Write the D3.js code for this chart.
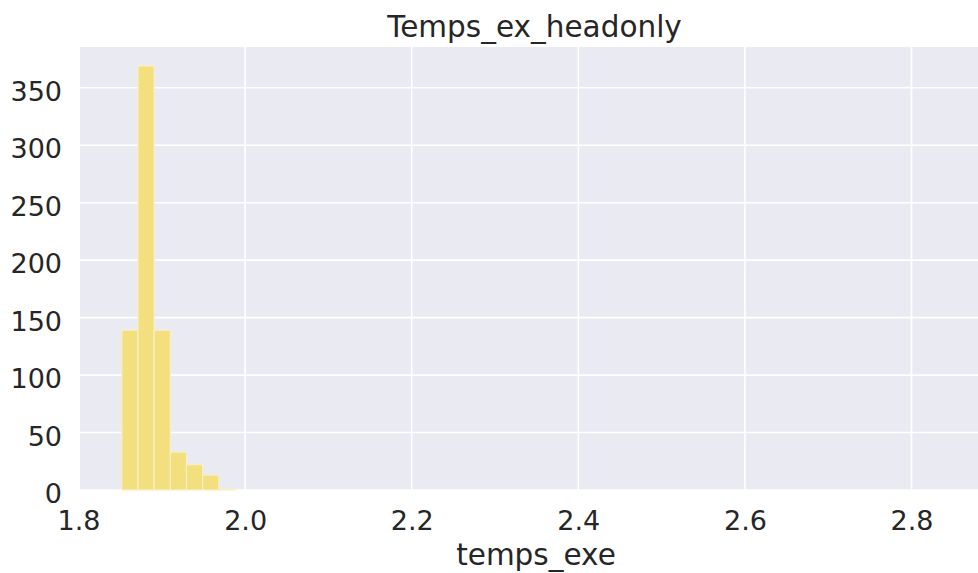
<!DOCTYPE html>
<html><head><meta charset="utf-8">
<script src="https://cdn.jsdelivr.net/npm/d3@7"></script>
<style>html,body{margin:0;padding:0;background:#fff;} svg{display:block;}</style>
</head><body>
<svg id="c" width="978" height="573"></svg>
<script>
const title = "Temps_ex_headonly";
const xLabel = "temps_exe";
const binEdges = [1.852, 1.8714, 1.8908, 1.9102, 1.9296, 1.949, 1.9684, 1.9878];
const counts = [139, 369, 139, 33, 22, 13, 1];
const xTicks = [1.8, 2.0, 2.2, 2.4, 2.6, 2.8];
const yTicks = [0, 50, 100, 150, 200, 250, 300, 350];

const svg = d3.select("#c");
const m = {left: 80, top: 47, right: 990, bottom: 490};
const x = d3.scaleLinear().domain([1.8018, 2.8942]).range([m.left, m.right]);
const y = d3.scaleLinear().domain([0, 385.5]).range([m.bottom, m.top]);
const font = "DejaVu Sans, sans-serif";

svg.append("rect").attr("x", m.left).attr("y", m.top)
  .attr("width", m.right - m.left).attr("height", m.bottom - m.top).attr("fill", "#eaeaf2");

const grid = svg.append("g");
grid.selectAll(".gx").data(xTicks).join("line")
  .attr("x1", d => x(d)).attr("x2", d => x(d)).attr("y1", m.top).attr("y2", m.bottom)
  .attr("stroke", "#fff").attr("stroke-width", 1.6);
grid.selectAll(".gy").data(yTicks).join("line")
  .attr("x1", m.left).attr("x2", m.right).attr("y1", d => y(d)).attr("y2", d => y(d))
  .attr("stroke", "#fff").attr("stroke-width", 1.6);

const bins = counts.map((c, i) => ({x0: binEdges[i], x1: binEdges[i + 1], c}));
svg.append("g").selectAll("rect").data(bins).join("rect")
  .attr("x", d => x(d.x0)).attr("width", d => x(d.x1) - x(d.x0))
  .attr("y", d => y(d.c)).attr("height", d => y(0) - y(d.c))
  .attr("fill", "#f4df7e")
  .attr("stroke", "#f7efc6").attr("stroke-width", 1.2);

const xAxis = d3.axisBottom(x).tickValues(xTicks).tickFormat(d3.format(".1f")).tickSize(0).tickPadding(0);
const gx = svg.append("g").attr("transform", `translate(0,${m.bottom})`).call(xAxis);
gx.select(".domain").remove();
gx.selectAll("text").attr("font-family", font).attr("font-size", 27).attr("fill", "#262626")
  .attr("y", 40).attr("dy", null);

const yAxis = d3.axisLeft(y).tickValues(yTicks).tickFormat(d3.format("d")).tickSize(0).tickPadding(18);
const gy = svg.append("g").attr("transform", `translate(${m.left},0)`).call(yAxis);
gy.select(".domain").remove();
gy.selectAll("text").attr("font-family", font).attr("font-size", 27).attr("fill", "#262626")
  .attr("dy", "0.47em");

svg.append("text").attr("x", 534.5).attr("y", 37).attr("text-anchor", "middle")
  .attr("font-family", font).attr("font-size", 29.5).attr("fill", "#262626").text(title);
svg.append("text").attr("x", 536).attr("y", 565).attr("text-anchor", "middle")
  .attr("font-family", font).attr("font-size", 29.5).attr("fill", "#262626").text(xLabel);
</script>
</body></html>
